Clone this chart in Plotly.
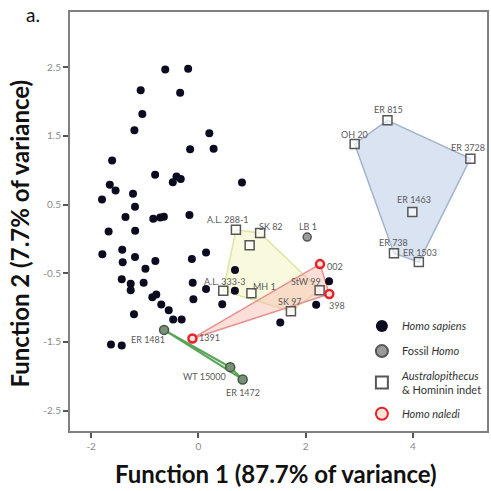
import plotly.graph_objects as go

# ---- Homo sapiens (discriminant scores) ----
sap_f1 = [-0.618, -0.191, -1.076, -0.340, -1.045, -1.193, 0.204, -0.154, 0.284, -1.609,
          -0.807, -0.408, -0.329, -0.477, 0.813, -1.652, -1.544, -1.219, -1.797, -1.182,
          -1.359, -0.841, -0.711, -0.644, -0.167, -1.674, -1.179, -1.791, -1.420, -1.411,
          -1.182, -0.987, -0.802, -0.121, 0.143, 0.683, -1.429, -1.262, -1.021, -1.262,
          -0.106, 0.143, 0.681, -0.859, -0.785, -0.093, 0.445, -0.692, -0.553, -1.201,
          -0.470, -0.312, -1.630, -1.429, 2.437, 2.196, 1.527]
sap_f2 = [2.466, 2.477, 2.165, 2.131, 1.821, 1.582, 1.538, 1.305, 1.315, 1.144,
          0.936, 0.911, 0.873, 0.827, 0.824, 0.790, 0.707, 0.659, 0.574, 0.469,
          0.319, 0.294, 0.313, 0.323, 0.348, 0.109, 0.120, -0.223, -0.157, -0.340,
          -0.264, -0.434, -0.321, -0.293, -0.198, -0.453, -0.585, -0.653, -0.636, -0.748,
          -0.636, -0.729, -0.755, -0.847, -0.810, -0.879, -0.949, -0.955, -1.036, -1.095,
          -1.173, -1.173, -1.538, -1.552, -0.614, -0.959, -1.217]

# ---- Australopithecus & Hominin indet ----
aus_names = ["A.L. 288-1", "SK 82", "", "A.L. 333-3", "MH 1", "SK 97", "StW 99",
             "ER 815", "OH 20", "ER 3728", "ER 1463", "ER 738", "ER 1503"]
aus_f1 = [0.700, 1.151, 0.956, 0.464, 0.989, 1.726, 2.261, 3.526, 2.914, 5.072, 3.990, 3.647, 4.111]
aus_f2 = [0.134, 0.086, -0.092, -0.755, -0.789, -1.051, -0.745, 1.727, 1.383, 1.169, 0.392, -0.206, -0.337]

# ---- Fossil Homo ----
lb_names = ["LB 1"]
lb_f1 = [2.029]
lb_f2 = [0.028]
fos_names = ["ER 1481", "WT 15000", "ER 1472"]
fos_f1 = [-0.640, 0.594, 0.826]
fos_f2 = [-1.324, -1.866, -2.045]

# ---- Homo naledi ----
nal_names = ["1391", "002", "398"]
nal_f1 = [-0.111, 2.268, 2.441]
nal_f2 = [-1.448, -0.366, -0.802]

# hull memberships
blue_hull = ["OH 20", "ER 815", "ER 3728", "ER 1503", "ER 738"]
yellow_hull = ["A.L. 288-1", "SK 82", "StW 99", "SK 97", "A.L. 333-3"]

x_ticks = [-2, 0, 2, 4]
y_ticks = [-2.5, -1.5, -0.5, 0.5, 1.5, 2.5]


def lookup(names, src_names, xs, ys):
    px, py = [], []
    for n in names:
        i = src_names.index(n)
        px.append(xs[i])
        py.append(ys[i])
    return px + [px[0]], py + [py[0]]


fig = go.Figure()


def hull(xs, ys, fill, line, width=1.5):
    fig.add_trace(go.Scatter(x=xs, y=ys, mode="lines", fill="toself", fillcolor=fill,
                             line=dict(color=line, width=width), hoverinfo="skip",
                             showlegend=False))


bx, by = lookup(blue_hull, aus_names, aus_f1, aus_f2)
hull(bx, by, "rgba(208,220,238,0.8)", "#a3b3c9")
yx, yy = lookup(yellow_hull, aus_names, aus_f1, aus_f2)
hull(yx, yy, "rgba(246,246,205,0.65)", "rgba(222,228,160,0.95)")
nx, ny = lookup(nal_names, nal_names, nal_f1, nal_f2)
hull(nx, ny, "rgba(248,185,170,0.45)", "#e79090")
gx, gy = lookup(fos_names, fos_names, fos_f1, fos_f2)
hull(gx, gy, "rgba(160,210,160,0.35)", "#5aa55a", 2)

fig.add_trace(go.Scatter(x=sap_f1, y=sap_f2, mode="markers", name="<i>Homo sapiens</i>",
                         legendgroup="a",
                         marker=dict(size=8, color="#0b0b1f", line=dict(width=0))))
fig.add_trace(go.Scatter(x=lb_f1, y=lb_f2, mode="markers", name="Fossil <i>Homo</i>",
                         legendgroup="b",
                         marker=dict(size=8, color="#9a9a9a", line=dict(color="#555555", width=1.5))))
fig.add_trace(go.Scatter(x=fos_f1, y=fos_f2, mode="markers", showlegend=False,
                         marker=dict(size=9, color="#7b8f7b", line=dict(color="#3d5a3d", width=1.5))))
fig.add_trace(go.Scatter(x=aus_f1, y=aus_f2, mode="markers",
                         name="<i>Australopithecus</i><br>& Hominin indet", legendgroup="c",
                         marker=dict(symbol="square", size=9, color="rgba(255,255,255,0.6)",
                                     line=dict(color="#575757", width=1.5))))
fig.add_trace(go.Scatter(x=nal_f1, y=nal_f2, mode="markers", name="<i>Homo naledi</i>",
                         legendgroup="d",
                         marker=dict(size=8, color="#ffe4d8", line=dict(color="#e8202a", width=2.5))))

# specimen labels: name -> pixel offset (dx, dy)
label_offsets = {
    "A.L. 288-1": (-8, 10), "SK 82": (11, 7), "A.L. 333-3": (2, 9), "MH 1": (13, 7),
    "SK 97": (-1, 10), "StW 99": (-14, 9), "ER 815": (1, 11), "OH 20": (0, 10),
    "ER 3728": (-2, 11), "ER 1463": (2, 13), "ER 738": (0, 11), "ER 1503": (1, 10),
    "LB 1": (1, 11), "ER 1481": (-16, -10), "WT 15000": (-26, -9), "ER 1472": (0, -13),
    "1391": (17, 1), "002": (15, -2), "398": (8, -11),
}
all_names = aus_names + lb_names + fos_names + nal_names
all_x = aus_f1 + lb_f1 + fos_f1 + nal_f1
all_y = aus_f2 + lb_f2 + fos_f2 + nal_f2
for n, x, y in zip(all_names, all_x, all_y):
    if not n:
        continue
    dx, dy = label_offsets[n]
    fig.add_annotation(x=x, y=y, text=n, showarrow=False, xshift=dx, yshift=dy,
                       font=dict(family="Lato", size=9, color="#5a5a5a"))

fig.add_annotation(xref="paper", yref="paper", x=0.495, y=-0.101, text="<b>Function 1 (87.7% of variance)</b>",
                   showarrow=False, xanchor="center", yanchor="middle",
                   font=dict(family="Lato", size=24, color="#111111"))
fig.add_annotation(xref="paper", yref="paper", x=-0.121, y=0.47, text="<b>Function 2 (7.7% of variance)</b>",
                   showarrow=False, xanchor="center", yanchor="middle", textangle=-90,
                   font=dict(family="Lato", size=24, color="#111111"))
fig.add_annotation(xref="paper", yref="paper", x=-0.088, y=0.993, text="a.",
                   showarrow=False, xanchor="center", yanchor="middle",
                   font=dict(family="Lato", size=19, color="#111111"))

axis_common = dict(showgrid=False, zeroline=False, showline=True, mirror=True,
                   linecolor="#808080", linewidth=2, ticks="outside", ticklen=5,
                   tickwidth=1.5, tickcolor="#555555",
                   tickfont=dict(family="Lato", size=10, color="#8a8a8a"))
fig.update_xaxes(range=[-2.394, 5.382], tickvals=x_ticks, ticktext=[str(v) for v in x_ticks], **axis_common)
fig.update_yaxes(range=[-2.796, 3.305], tickvals=y_ticks, ticktext=[str(v) for v in y_ticks], **axis_common)

fig.update_layout(
    width=491, height=491,
    margin=dict(l=70, r=2, t=12, b=60),
    paper_bgcolor="white", plot_bgcolor="white",
    showlegend=True,
    legend=dict(x=0.70, y=0.285, xanchor="left", yanchor="top", bgcolor="rgba(0,0,0,0)",
                itemsizing="constant",
                font=dict(family="Lato", size=11, color="#333333"), tracegroupgap=6),
)

fig.write_html("out.html")
